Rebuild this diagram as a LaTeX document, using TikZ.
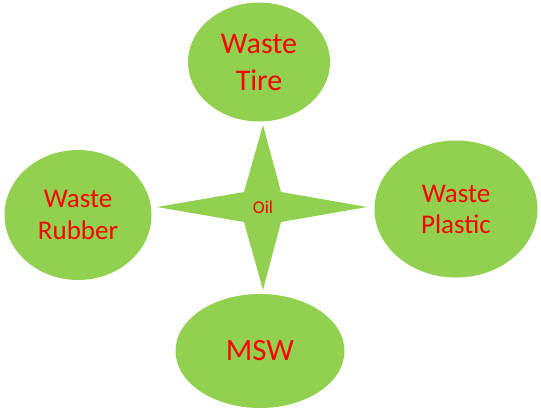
\documentclass[tikz,border=0pt]{standalone}
\usepackage{fontspec}
\setmainfont{Carlito}
\usetikzlibrary{shapes.geometric}
\definecolor{leaf}{HTML}{92D050}
\definecolor{txtred}{HTML}{FF0000}
\tikzset{
  blob/.style={ellipse, fill=leaf, inner sep=0pt, text=txtred, align=center},
  star/.style={fill=leaf}
}
\begin{document}
\begin{tikzpicture}[x=1pt,y=1pt]
\useasboundingbox (0,0) rectangle (541,413);
% star
\coordinate (c) at (263,206);
\fill[star] (263,288) -- (281,221) -- (367,206) -- (281,191) -- (263,123) -- (244,191) -- (157,206) -- (244,221) -- cycle;
\node[text=txtred, font=\fontsize{18}{20}\selectfont] (oil) at (c) {Oil};
% ellipses
\node[blob, minimum width=142, minimum height=119, font=\fontsize{30}{37}\selectfont] (tire) at (259,351) {Waste\\Tire};
\node[blob, minimum width=147, minimum height=130, font=\fontsize{27}{32}\selectfont] (rubber) at (78,198) {Waste\\Rubber};
\node[blob, minimum width=163, minimum height=137, font=\fontsize{27}{31}\selectfont] (plastic) at (456,204) {Waste\\Plastic};
\node[blob, minimum width=169, minimum height=114, font=\fontsize{31}{36}\selectfont] (msw) at (260,62) {MSW};
\end{tikzpicture}
\end{document}
